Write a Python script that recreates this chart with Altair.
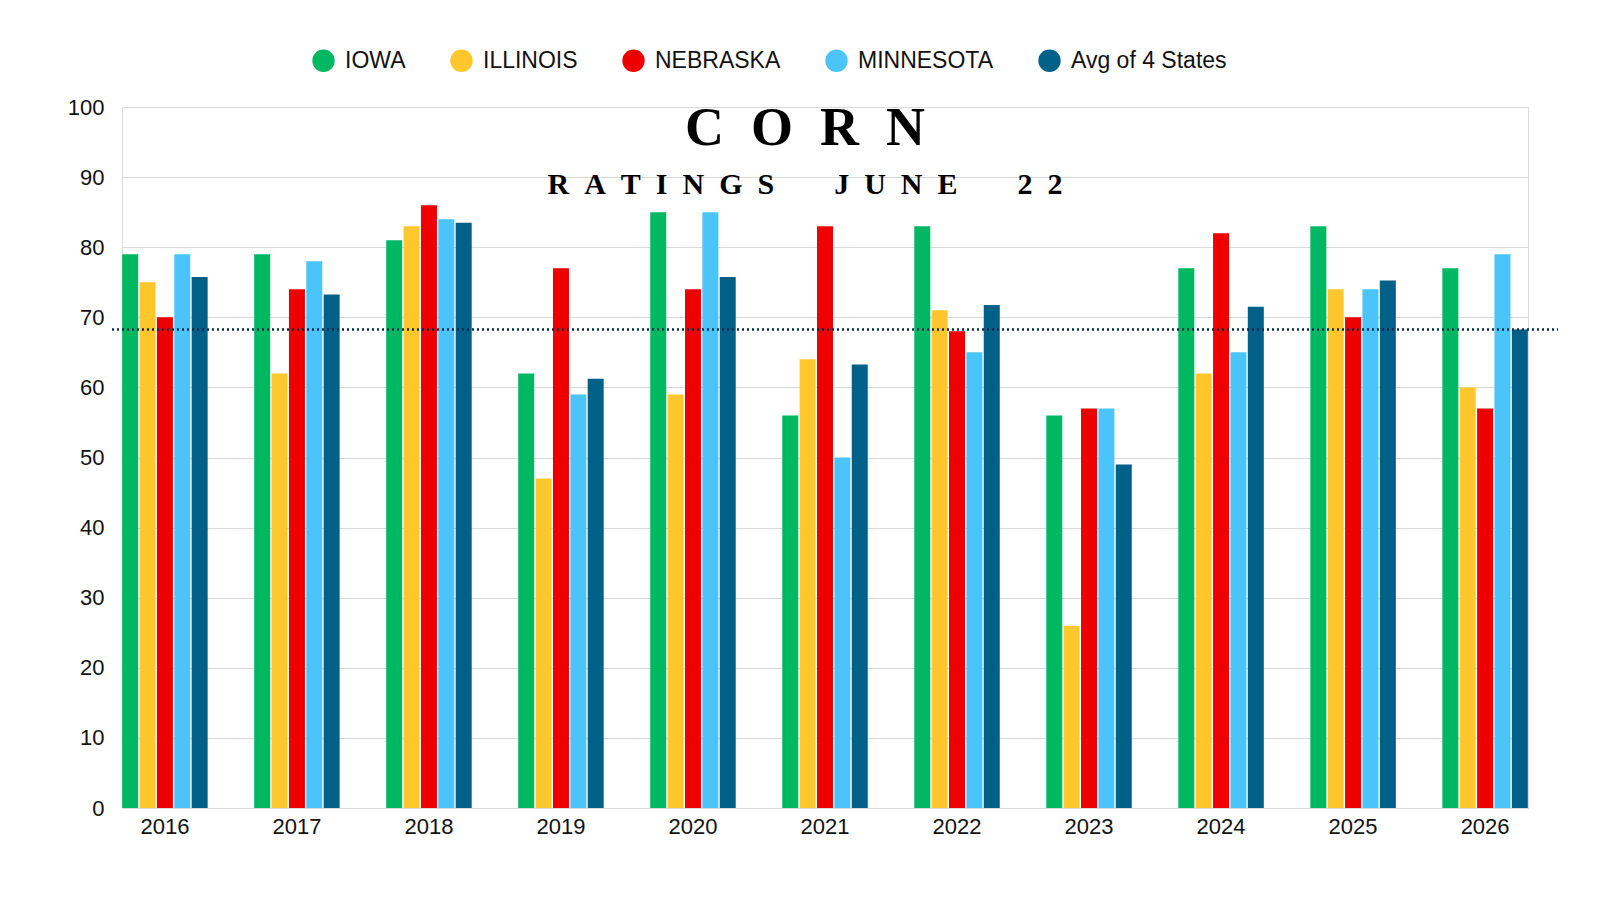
import altair as alt
import pandas as pd

years = ["2016", "2017", "2018", "2019", "2020", "2021", "2022", "2023", "2024", "2025", "2026"]
iowa = [79, 79, 81, 62, 85, 56, 83, 56, 77, 83, 77]
illinois = [75, 62, 83, 47, 59, 64, 71, 26, 62, 74, 60]
nebraska = [70, 74, 86, 77, 74, 83, 68, 57, 82, 70, 57]
minnesota = [79, 78, 84, 59, 85, 50, 65, 57, 65, 74, 79]
avg4 = [75.75, 73.25, 83.5, 61.25, 75.75, 63.25, 71.75, 49, 71.5, 75.25, 68.25]
ref_line = 68.25

series = ["IOWA", "ILLINOIS", "NEBRASKA", "MINNESOTA", "Avg of 4 States"]
colors = ["#00B862", "#FFC72C", "#EE0000", "#4BC4FA", "#006088"]

rows = []
for name, vals in zip(series, [iowa, illinois, nebraska, minnesota, avg4]):
    for y, v in zip(years, vals):
        rows.append({"year": y, "series": name, "value": v})
df = pd.DataFrame(rows)

W, H = 1406, 701
font = "Liberation Sans"
nb = "\u00a0"


def spaced(s, gap):
    # non-breaking spaces so svg keeps the letter spacing
    return (nb * gap).join(s.replace(" ", nb * 2))


bars = alt.Chart(df).mark_bar(size=16).encode(
    x=alt.X("year:N", sort=years, title=None,
            scale=alt.Scale(paddingInner=0.35, paddingOuter=0),
            axis=alt.Axis(labelAngle=0, labelFontSize=22, labelFont=font, labelColor="#111",
                          domain=False, ticks=False, labelPadding=8)),
    xOffset=alt.XOffset("series:N", sort=series, scale=alt.Scale(paddingInner=0.06)),
    y=alt.Y("value:Q", title=None, scale=alt.Scale(domain=[0, 100]),
            axis=alt.Axis(values=list(range(0, 101, 10)), labelFontSize=22, labelFont=font,
                          labelColor="#111", domain=False, ticks=False, labelPadding=18,
                          gridColor="#d9d9d9")),
    color=alt.Color("series:N", sort=series, title=None,
                    scale=alt.Scale(domain=series, range=colors),
                    legend=alt.Legend(orient="none", legendX=190, legendY=-58, direction="horizontal",
                                      symbolType="circle", symbolSize=500, symbolStrokeWidth=0,
                                      labelFontSize=23, labelFont=font, labelColor="#111",
                                      columnPadding=44, labelOffset=10)),
)

rule = alt.Chart(pd.DataFrame({"y": [ref_line]})).mark_rule(
    color="#0b2a4a", strokeDash=[2, 3], strokeWidth=2.5, clip=False
).encode(y="y:Q", x=alt.value(-10), x2=alt.value(W + 45))

title = alt.Chart(pd.DataFrame({"t": [spaced("CORN", 2)]})).mark_text(
    font="Liberation Sans Narrow", fontWeight="bold", fontSize=54, color="#000"
).encode(text="t:N", x=alt.value(683), y=alt.value(22))

subtitle = alt.Chart(pd.DataFrame({"t": [spaced("RATINGS JUNE 22", 2)]})).mark_text(
    font="Liberation Sans Narrow", fontWeight="bold", fontSize=30, color="#000"
).encode(text="t:N", x=alt.value(683), y=alt.value(78))

chart = (bars + rule + title + subtitle).properties(
    width=W, height=H, autosize=alt.AutoSizeParams(type="none"),
    padding={"left": 114, "top": 99, "right": 30, "bottom": 50}
).configure_view(strokeWidth=0).configure(background="white")

chart.save("out.html", embed_options={"renderer": "svg", "actions": False})
